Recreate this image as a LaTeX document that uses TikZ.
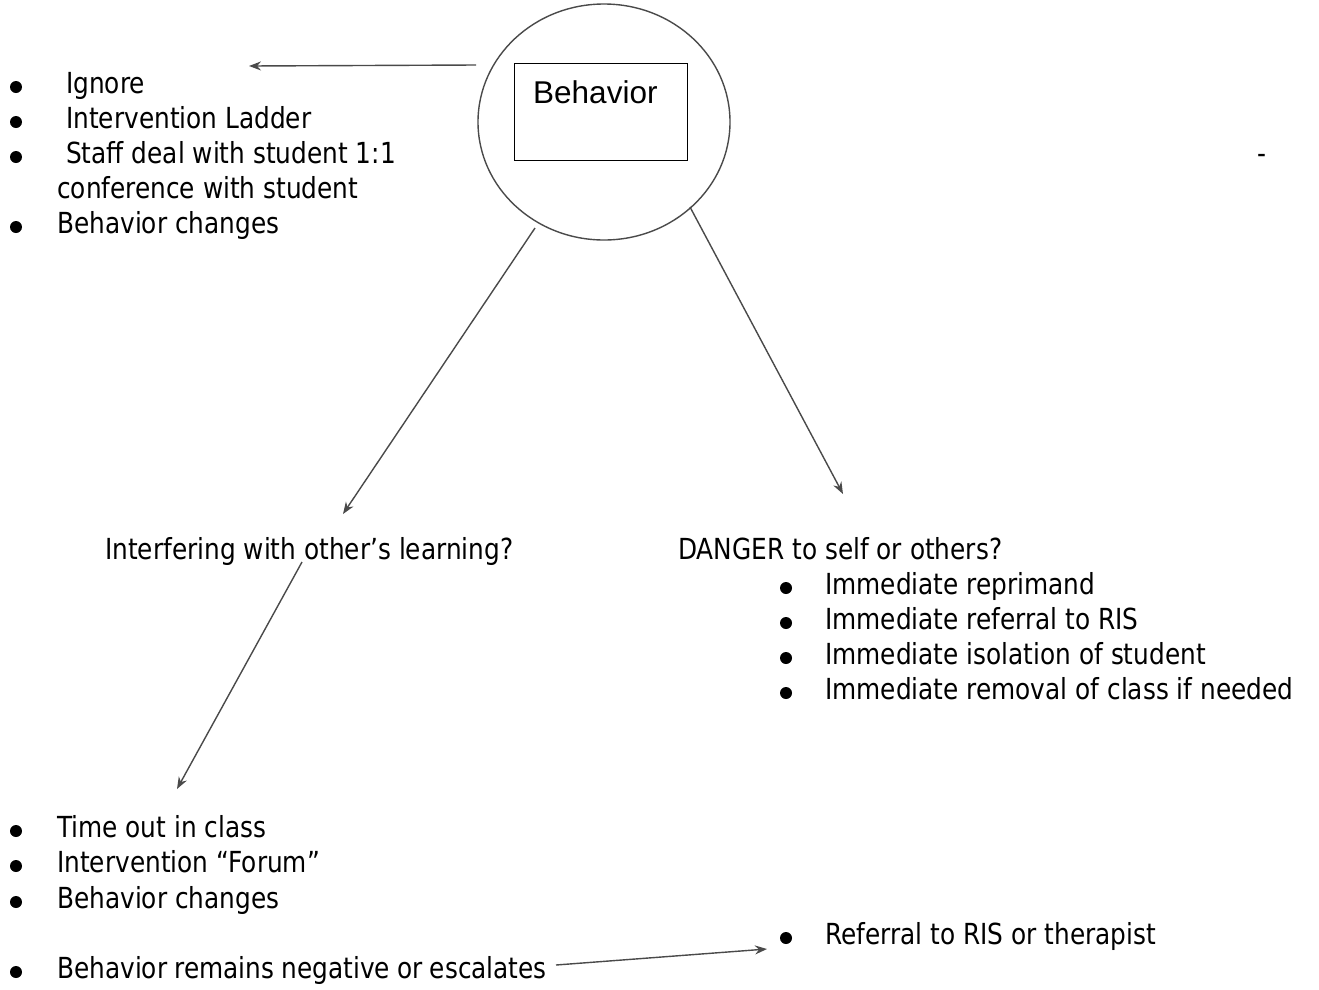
\documentclass[tikz,border=0pt]{standalone}
\usepackage{fontspec}
\setmainfont{DejaVu Sans}[FakeStretch=0.855]
\newfontfamily\arialfont{Liberation Sans}
\usetikzlibrary{arrows.meta,shapes.geometric}
\definecolor{linegray}{HTML}{4A4A4A}
\tikzset{
  txt/.style={anchor=base west, inner sep=0pt, font=\fontsize{29}{35}\selectfont, text=black},
  conn/.style={draw=linegray, line width=1.4pt, -{Stealth[length=12pt,width=9pt]}},
  bul/.style={fill=black}
}
\begin{document}
\begin{tikzpicture}[x=1pt,y=-1pt]
\useasboundingbox (0,0) rectangle (1319,989);
\fill[white] (0,0) rectangle (1319,989);

% central behavior shape
\node[draw=linegray, line width=1.4pt, ellipse, minimum width=252pt, minimum height=236pt, inner sep=0pt] (circ) at (604,122) {};
\node[draw=black, line width=1.4pt, minimum width=173pt, minimum height=97pt, inner sep=0pt, anchor=north west] (box) at (514,63) {};
\node[anchor=base west, inner sep=0pt, font=\arialfont\fontsize{31.5}{36}\selectfont, text=black] (boxlabel) at (533,103) {Behavior};

% top-left list
\node[txt] (i1) at (66,93) {Ignore};
\node[txt] (i2) at (66,128) {Intervention Ladder};
\node[txt] (i3) at (66,163) {Staff deal with student 1:1};
\node[txt] (i3d) at (1257,163) {-};
\node[txt] (i3b) at (57,198) {conference with student};
\node[txt] (i4) at (57,233) {Behavior changes};
\foreach \y in {93,128,163,233} \fill[bul] (16,\y-6) circle (6);

% middle headings
\node[txt] (interf) at (105,559) {Interfering with other’s learning?};
\node[txt] (danger) at (678,559) {DANGER to self or others?};
\node[txt] (d1) at (825,594) {Immediate reprimand};
\node[txt] (d2) at (825,629) {Immediate referral to RIS};
\node[txt] (d3) at (825,664) {Immediate isolation of student};
\node[txt] (d4) at (825,699) {Immediate removal of class if needed};
\foreach \y in {594,629,664,699} \fill[bul] (786,\y-6) circle (6);

% bottom list
\node[txt] (b1) at (57,837) {Time out in class};
\node[txt] (b2) at (57,872) {Intervention “Forum”};
\node[txt] (b3) at (57,908) {Behavior changes};
\node[txt] (b4) at (57,978) {\spaceskip=0.25em\relax Behavior remains negative or escalates};
\foreach \y in {837,872,908,978} \fill[bul] (16,\y-6) circle (6);
\node[txt] (r1) at (825,944) {Referral to RIS or therapist};
\fill[bul] (786,938) circle (6);

% connector end points
\coordinate (a1s) at (476,65);  \coordinate (a1e) at (249,66);
\coordinate (a2s) at (535,228); \coordinate (a2e) at (343,514);
\coordinate (a3s) at (690,207); \coordinate (a3e) at (843,494);
\coordinate (a4s) at (302,562); \coordinate (a4e) at (177,789);
\coordinate (a5s) at (556,965); \coordinate (a5e) at (767,949);

\draw[conn] (a1s) -- (a1e);
\draw[conn] (a2s) -- (a2e);
\draw[conn] (a3s) -- (a3e);
\draw[conn] (a4s) -- (a4e);
\draw[conn] (a5s) -- (a5e);
\end{tikzpicture}
\end{document}
